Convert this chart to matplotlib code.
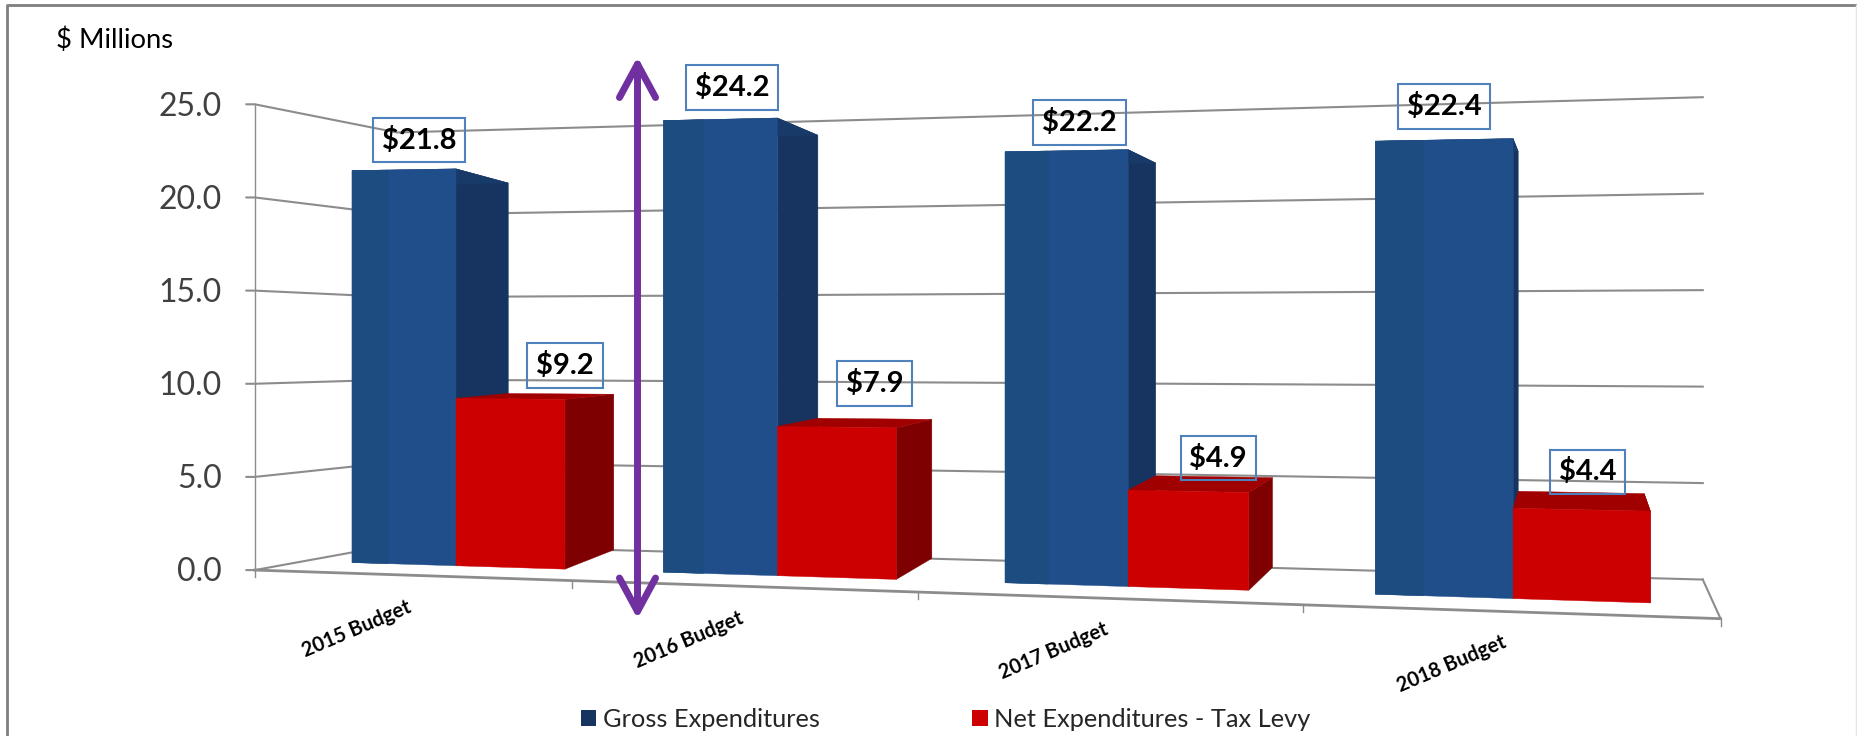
import numpy as np
import matplotlib
matplotlib.use('Agg')
import matplotlib.pyplot as plt
from matplotlib.patches import Polygon, Patch

plt.rcParams['font.family'] = ['Lato', 'DejaVu Sans']

categories = ['2015 Budget', '2016 Budget', '2017 Budget', '2018 Budget']
gross = [21.8, 24.2, 22.2, 22.4]
net = [9.2, 7.9, 4.9, 4.4]
y_ticks = [0, 5, 10, 15, 20, 25]

# perspective frame, in units of the 1568 wide view
front_ticks = [215, 483, 775, 1100, 1452]
back_ticks = [290, 545, 819, 1128, 1437]
WALL_X = 335  # corner of side wall and back wall, hidden behind the first bar
D_FRONT, D_BACK = 0.35, 1.0
# where the bars sit inside each category
bar_start = [0.212, 0.193, 0.181, 0.151]
bar_mid = [0.545, 0.53, 0.506, 0.496]
bar_end = [0.894, 0.881, 0.825, 0.84]

# label offsets from the top of the front face
gross_off = [(13, -25), (10, -27), (11, -24), (0, -28)]
net_off = [(46, -28), (32, -37), (25, -28), (5, -32)]
cat_off = [(-62, 45), (-59, 45), (-49, 44), (-49, 44)]

BLUE, BLUE2, BLUE_SIDE, BLUE_TOP = '#1f4e8a', '#1d4c80', '#16345f', '#173a68'
RED, RED_SIDE, RED_TOP = '#cc0000', '#7f0000', '#a00000'
GRID = '#8c8c8c'


def proj(u, z, d):
    f = np.interp(u, range(5), front_ticks)
    b = np.interp(u, range(5), back_ticks)
    s = (f - front_ticks[0]) / (front_ticks[-1] - front_ticks[0])
    x = (1 - d) * f + d * b
    y_front = 481 + 41 * s - (393 + 69 * s) * z / 25
    y_back = 458 + 31 * s - (345 + 62 * s) * z / 25
    return x, (1 - d) * y_front + d * y_back


def face(ax, pts, color, zo):
    ax.add_patch(Polygon([proj(*p) for p in pts], closed=True, fc=color, ec=color, lw=0.3, zorder=zo))


def draw_bar(ax, u0, u1, v, front, side, top, zo, strip=None):
    face(ax, [(u1, 0, D_FRONT), (u1, 0, D_BACK), (u1, v, D_BACK), (u1, v, D_FRONT)], side, zo)
    face(ax, [(u0, v, D_FRONT), (u1, v, D_FRONT), (u1, v, D_BACK), (u0, v, D_BACK)], top, zo)
    face(ax, [(u0, 0, D_FRONT), (u1, 0, D_FRONT), (u1, v, D_FRONT), (u0, v, D_FRONT)], front, zo)
    if strip:
        um = u0 + (u1 - u0) * 0.35
        face(ax, [(u0, 0, D_FRONT), (um, 0, D_FRONT), (um, v, D_FRONT), (u0, v, D_FRONT)], strip, zo)


fig = plt.figure(figsize=(18.58, 7.36), dpi=100)
ax = fig.add_axes([0, 0, 1, 1])
ax.set_xlim(0, 1568)
ax.set_ylim(621, 0)
ax.axis('off')

# outer frame
ax.plot([6, 6, 1566], [621, 4, 4], color='#7f7f7f', lw=2, zorder=1)
ax.plot([1566, 1566], [4, 621], color='#e4e4e4', lw=1, zorder=1)

ax.text(47, 34, '$ Millions', fontsize=19.7, ha='left', va='center', color='black')

# walls and gridlines
for t in y_ticks:
    x0, y0 = proj(0, t, 0)
    x1, y1 = proj(0, t, 1)
    x2, y2 = proj(4, t, 1)
    yc = y1 + (y2 - y1) * (WALL_X - x1) / (x2 - x1)
    ax.plot([x0 - 7, x0, WALL_X, x2], [y0, y0, yc, y2], color=GRID, lw=1.5, zorder=2)
    ax.text(x0 - 28, y0 + 2, '%.1f' % t, fontsize=23, ha='right', va='center', color='#404040')
ax.plot(*zip(proj(0, 0, 0), proj(0, 25, 0)), color=GRID, lw=1, zorder=2)

# floor front edge, right edge, ticks
ax.plot(*zip(proj(0, 0, 0), proj(4, 0, 0)), color=GRID, lw=2, zorder=2)
ax.plot(*zip(proj(4, 0, 1), proj(4, 0, 0)), color=GRID, lw=1.5, zorder=2)
for i in range(5):
    x, y = proj(i, 0, 0)
    ax.plot([x, x], [y, y + 6], color=GRID, lw=1, zorder=2)

for i, cat in enumerate(categories):
    u0, um, u1 = i + bar_start[i], i + bar_mid[i], i + bar_end[i]
    draw_bar(ax, u0, um, gross[i], BLUE, BLUE_SIDE, BLUE_TOP, 3 + i, strip=BLUE2)
    draw_bar(ax, um, u1, net[i], RED, RED_SIDE, RED_TOP, 3 + i + 0.5)

    x, y = proj((u0 + u1) / 2, 0, 0)
    ax.text(x + cat_off[i][0], y + cat_off[i][1], cat, rotation=23, fontsize=14.5, fontweight='bold',
            ha='center', va='center', rotation_mode='anchor', color='black')

    for u, v, off in [((u0 + um) / 2, gross[i], gross_off[i]), ((um + u1) / 2, net[i], net_off[i])]:
        x, y = proj(u, v, D_FRONT)
        ax.text(x + off[0], y + off[1], '$%.1f' % v, fontsize=21, fontweight='bold', ha='center', va='center',
                color='black', zorder=9,
                bbox=dict(boxstyle='square,pad=0.3', fc='none', ec='#4f81bd', lw=1.5))

# purple double arrow
ax.annotate('', xy=(538, 48), xytext=(538, 522), zorder=10,
            arrowprops=dict(arrowstyle='<->,head_length=24,head_width=13', color='#7030a0', lw=5,
                            mutation_scale=1, shrinkA=0, shrinkB=0))

handles = [Patch(fc=BLUE_SIDE, ec='none'), Patch(fc=RED, ec='none')]
ax.legend(handles, ['Gross Expenditures', 'Net Expenditures - Tax Levy'], ncols=2, frameon=False,
          loc='center', bbox_to_anchor=(798, 607), bbox_transform=ax.transData, fontsize=18.3,
          handlelength=0.62, handleheight=0.62, handletextpad=0.25, columnspacing=6.0,
          labelcolor='#262626', borderpad=0, borderaxespad=0)

plt.savefig('out.png', dpi=100)
